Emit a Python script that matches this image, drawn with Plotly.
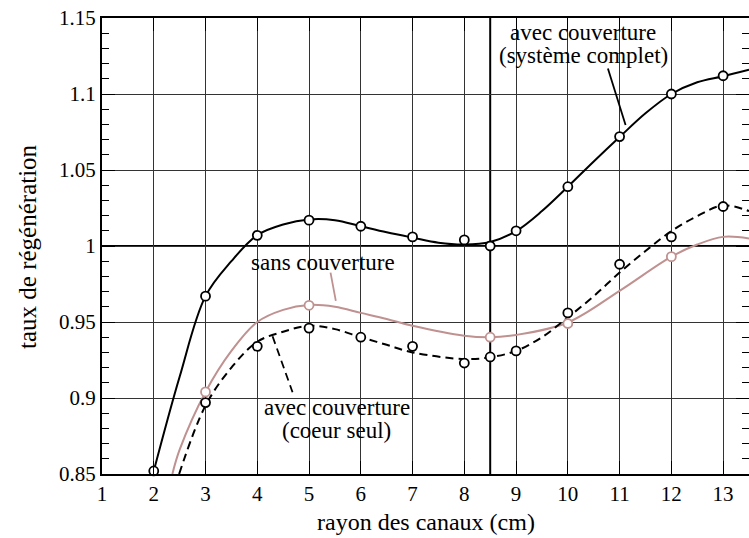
import plotly.graph_objects as go

# ---------------- data ----------------
x_tickvals = list(range(1, 14))
y_tickvals = [0.85, 0.9, 0.95, 1.0, 1.05, 1.1, 1.15]
y_ticktext = ["0.85", "0.9", "0.95", "1", "1.05", "1.1", "1.15"]

# measured points
complet_x = [2, 3, 4, 5, 6, 7, 8, 8.5, 9, 10, 11, 12, 13]
complet_y = [0.852, 0.967, 1.007, 1.017, 1.013, 1.006, 1.004, 1.000, 1.010, 1.039, 1.072, 1.100, 1.112]

coeur_x = [3, 4, 5, 6, 7, 8, 8.5, 9, 10, 11, 12, 13]
coeur_y = [0.897, 0.934, 0.946, 0.940, 0.934, 0.923, 0.927, 0.931, 0.956, 0.988, 1.006, 1.026]

sans_x = [3, 5, 8.5, 10, 12]
sans_y = [0.904, 0.961, 0.940, 0.949, 0.993]

# fitted curves
complet_cx = [2, 2.5, 3, 3.5, 4, 4.5, 5, 5.5, 6, 6.5, 7, 7.5, 8, 8.5, 9, 9.5, 10, 10.5, 11, 11.5, 12, 12.5, 13, 13.5]
complet_cy = [0.852, 0.914, 0.967, 0.990, 1.0072, 1.0142, 1.0175, 1.017, 1.013, 1.009, 1.0055, 1.0022, 1.001, 1.0026,
              1.0098, 1.023, 1.039, 1.0556, 1.0717, 1.0873, 1.100, 1.1077, 1.1117, 1.116]

coeur_cx = [2.49, 3, 3.5, 4, 4.5, 5, 5.5, 6, 6.5, 7, 8, 8.5, 9, 9.5, 10, 10.5, 11, 11.5, 12, 12.5, 13, 13.5]
coeur_cy = [0.85, 0.895, 0.920, 0.937, 0.9436, 0.9475, 0.9453, 0.940, 0.935, 0.930, 0.9256, 0.9268, 0.931, 0.940,
            0.953, 0.967, 0.9825, 0.9967, 1.0098, 1.0197, 1.0267, 1.023]

sans_cx = [2.36, 2.5, 3, 3.5, 4, 4.5, 5, 5.5, 6, 6.5, 7, 8, 8.5, 9, 10, 11, 12, 12.5, 13, 13.5]
sans_cy = [0.85, 0.866, 0.904, 0.931, 0.950, 0.958, 0.9612, 0.960, 0.956, 0.952, 0.9475, 0.941, 0.940, 0.9415,
           0.9497, 0.9705, 0.993, 1.001, 1.006, 1.005]

ref_x = 8.5
ref_y = 1.0

# annotation label lines: (text, x, y) and leader lines (x0, y0, x1, y1)
labels = [
    ("avec couverture", 10.30, 1.1406),
    ("(système complet)", 10.30, 1.1255),
    ("sans couverture", 5.277, 0.9893),
    ("avec couverture", 5.54, 0.8935),
    ("(coeur seul)", 5.54, 0.8784),
]
leader_complet = (10.774, 1.1168, 11.116, 1.0796)
leader_sans = (5.415, 0.9825, 5.517, 0.9639)
leader_coeur = (4.295, 0.9406, 4.681, 0.9038)

x_title = "rayon des canaux (cm)"
y_title = "taux de régénération"

PINK = "#bf9190"
FONT = "Liberation Serif, Times New Roman, Tinos, DejaVu Serif, serif"

fig = go.Figure()

# curves
fig.add_trace(go.Scatter(x=complet_cx, y=complet_cy, mode="lines", line=dict(color="black", width=2, shape="spline"),
                         hoverinfo="skip", showlegend=False))
fig.add_trace(go.Scatter(x=sans_cx, y=sans_cy, mode="lines", line=dict(color=PINK, width=2, shape="spline"),
                         hoverinfo="skip", showlegend=False))
fig.add_trace(go.Scatter(x=coeur_cx, y=coeur_cy, mode="lines",
                         line=dict(color="black", width=2, shape="spline", dash="8px,5px"),
                         hoverinfo="skip", showlegend=False))

# markers
mk = dict(symbol="circle", size=9, color="white", line=dict(color="black", width=1.8))
fig.add_trace(go.Scatter(x=complet_x, y=complet_y, mode="markers", marker=mk, showlegend=False, cliponaxis=False))
fig.add_trace(go.Scatter(x=coeur_x, y=coeur_y, mode="markers", marker=mk, showlegend=False, cliponaxis=False))
fig.add_trace(go.Scatter(x=sans_x, y=sans_y, mode="markers",
                         marker=dict(symbol="circle", size=9, color="white", line=dict(color=PINK, width=1.8)),
                         showlegend=False, cliponaxis=False))

# reference lines
fig.add_vline(x=ref_x, line=dict(color="black", width=2), layer="below")
fig.add_hline(y=ref_y, line=dict(color="black", width=2), layer="below")

# leader lines
for (x0, y0, x1, y1), col, dash in [(leader_complet, "black", "solid"),
                                    (leader_sans, PINK, "solid"),
                                    (leader_coeur, "black", "8px,5px")]:
    fig.add_shape(type="line", x0=x0, y0=y0, x1=x1, y1=y1, xref="x", yref="y",
                  line=dict(color=col, width=1.8, dash=dash))

for text, x, y in labels:
    fig.add_annotation(text=text, x=x, y=y, xref="x", yref="y", showarrow=False,
                       xanchor="center", yanchor="middle",
                       font=dict(family=FONT, size=23, color="black"), align="center")

# axis titles as paper annotations
fig.add_annotation(text=x_title, x=0.5, y=-0.106, xref="paper", yref="paper", showarrow=False,
                   xanchor="center", yanchor="middle", font=dict(family=FONT, size=24, color="black"))
fig.add_annotation(text=y_title, x=-0.116, y=0.5, xref="paper", yref="paper", showarrow=False, textangle=-90,
                   xanchor="center", yanchor="middle", font=dict(family=FONT, size=25, color="black"))

fig.update_xaxes(range=[1, 13.5], tickvals=x_tickvals, ticks="inside", ticklen=13, tickcolor="black",
                 showgrid=True, gridcolor="#333", gridwidth=1, showline=True, linecolor="black", linewidth=2,
                 mirror="ticks", zeroline=False, automargin=False, ticklabeloverflow="allow",
                 tickfont=dict(family=FONT, size=21, color="black"))
fig.update_yaxes(range=[0.85, 1.15], tickvals=y_tickvals, ticktext=y_ticktext, ticks="inside", ticklen=13,
                 tickcolor="black", showgrid=True, gridcolor="#333", gridwidth=1, showline=True, linecolor="black",
                 linewidth=2, mirror="ticks", zeroline=False, automargin=False, ticklabeloverflow="allow",
                 minor=dict(dtick=0.01, tick0=0.85, ticks="inside", ticklen=7, tickcolor="black", showgrid=False),
                 tickfont=dict(family=FONT, size=21, color="black"))

fig.update_layout(width=749, height=538, margin=dict(l=102, r=0, t=18, b=64, autoexpand=False),
                  plot_bgcolor="white", paper_bgcolor="white", font=dict(family=FONT, color="black"))

# remove the default page margin so the figure sits at the window's top-left corner
fig.write_html("out.html", config={"displayModeBar": False},
               post_script="document.body.style.margin='0';document.body.style.overflow='hidden';")
